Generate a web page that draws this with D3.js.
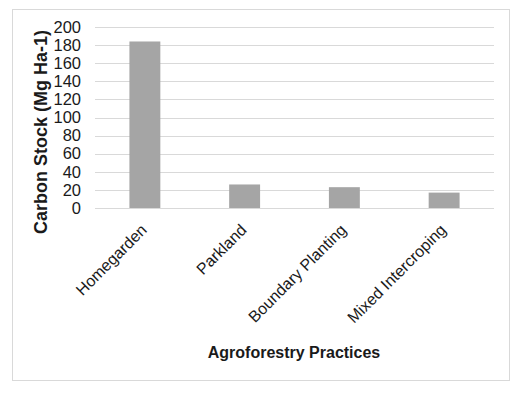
<!DOCTYPE html>
<html>
<head>
<meta charset="utf-8">
<script src="https://cdn.jsdelivr.net/npm/d3@7"></script>
<style>
  body { margin: 0; background: #fff; }
  svg { font-family: "Liberation Sans", Arial, sans-serif; }
</style>
</head>
<body>
<div id="chart"></div>
<script>
// data
var practices = ["Homegarden", "Parkland", "Boundary Planting", "Mixed Intercroping"];
var carbonStock = [184, 26, 23, 17];
var yTicks = [0, 20, 40, 60, 80, 100, 120, 140, 160, 180, 200];

var w = 522, h = 393;
var margin = { top: 27, right: 28, bottom: 185, left: 95 };

var svg = d3.select("#chart")
    .append("svg")
    .attr("width", w)
    .attr("height", h);

// outer frame
svg.append("rect")
    .attr("x", 12.5)
    .attr("y", 9.5)
    .attr("width", 497)
    .attr("height", 371)
    .attr("fill", "#fff")
    .attr("stroke", "#d9d9d9");

var x = d3.scaleBand()
    .domain(practices)
    .range([margin.left, w - margin.right])
    .paddingInner(0.69)
    .paddingOuter(0.345);

var y = d3.scaleLinear()
    .domain([0, 200])
    .range([h - margin.bottom, margin.top]);

// gridlines
svg.append("g")
    .selectAll("line")
    .data(yTicks)
    .enter()
    .append("line")
    .attr("x1", margin.left)
    .attr("x2", w - margin.right)
    .attr("y1", function (d) { return Math.round(y(d)) + 0.5; })
    .attr("y2", function (d) { return Math.round(y(d)) + 0.5; })
    .attr("stroke", "#d9d9d9");

// bars
svg.append("g")
    .selectAll("rect")
    .data(carbonStock)
    .enter()
    .append("rect")
    .attr("x", function (d, i) { return x(practices[i]); })
    .attr("y", function (d) { return y(d); })
    .attr("width", x.bandwidth())
    .attr("height", function (d) { return y(0) - y(d); })
    .attr("fill", "#a5a5a5");

// y axis labels
var yAxis = d3.axisLeft(y)
    .tickValues(yTicks)
    .tickSize(0)
    .tickPadding(0);

var gy = svg.append("g")
    .attr("transform", "translate(81,0)")
    .call(yAxis);
gy.select(".domain").remove();
gy.selectAll("text")
    .attr("font-size", 16.5)
    .attr("font-family", "Liberation Sans, Arial, sans-serif")
    .attr("fill", "#1a1a1a");

// x axis labels, rotated
var xAxis = d3.axisBottom(x).tickSize(0).tickPadding(0);
var gx = svg.append("g")
    .attr("transform", "translate(0," + y(0) + ")")
    .call(xAxis);
gx.select(".domain").remove();
gx.selectAll("text")
    .attr("font-size", 16)
    .attr("font-family", "Liberation Sans, Arial, sans-serif")
    .attr("fill", "#1a1a1a")
    .attr("text-anchor", "end")
    .attr("dy", null)
    .attr("y", 0)
    .attr("transform", "translate(3,23) rotate(-45)");

// axis titles
svg.append("text")
    .attr("x", 294)
    .attr("y", 358)
    .attr("text-anchor", "middle")
    .attr("font-size", 16)
    .attr("font-weight", "bold")
    .attr("fill", "#1a1a1a")
    .text("Agroforestry Practices");

svg.append("text")
    .attr("transform", "translate(47,132) rotate(-90)")
    .attr("text-anchor", "middle")
    .attr("font-size", 18)
    .attr("font-weight", "bold")
    .attr("fill", "#1a1a1a")
    .text("Carbon Stock (Mg Ha-1)");
</script>
</body>
</html>
